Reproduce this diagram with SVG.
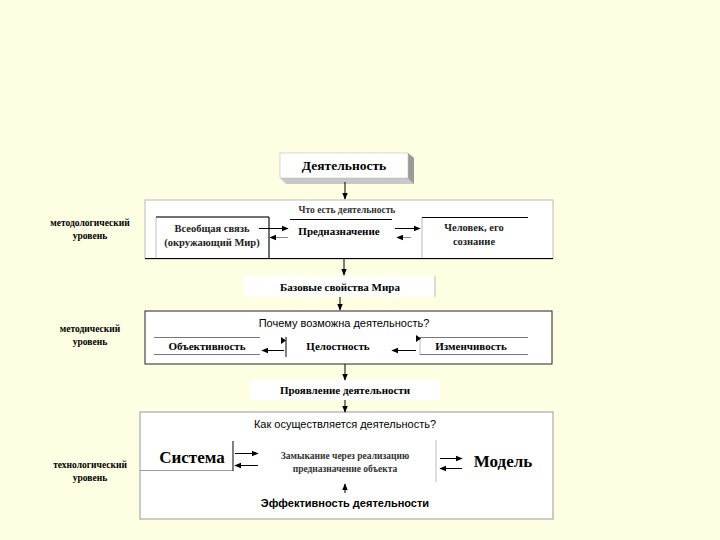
<svg xmlns="http://www.w3.org/2000/svg" width="720" height="540" viewBox="0 0 720 540">
<defs>
<marker id="ah" viewBox="0 0 10 10" refX="9" refY="5" markerWidth="7" markerHeight="7" orient="auto" markerUnits="userSpaceOnUse"><path d="M0,1 L10,5 L0,9 z" fill="#000"/></marker>
</defs>
<style>
.lbl{font-family:"Liberation Serif","DejaVu Serif",serif;font-size:9.5px;font-weight:bold;fill:#000;text-anchor:middle}
.ser{font-family:"Liberation Serif","DejaVu Serif",serif;font-size:10.5px;font-weight:bold;fill:#222;text-anchor:middle}
.serb{font-family:"Liberation Serif","DejaVu Serif",serif;font-size:11px;font-weight:bold;fill:#000;text-anchor:middle}
.sm{font-family:"Liberation Serif","DejaVu Serif",serif;font-size:9.5px;font-weight:bold;fill:#333;text-anchor:middle}
.san{font-family:"Liberation Sans",Arial,sans-serif;font-size:11px;fill:#000;text-anchor:middle}
.big{font-family:"Liberation Serif","DejaVu Serif",serif;font-size:17px;font-weight:bold;fill:#000;text-anchor:middle}
.c{stroke:#000;stroke-width:1;fill:none;marker-end:url(#ah)}
.cg{stroke:#888;stroke-width:1;fill:none;marker-end:url(#ah)}
.panel{fill:#fff}
.strip{fill:#fff}
</style>
<rect width="720" height="540" fill="#FEFEE2"/>

<g id="labels">
<text class="lbl" x="90" y="226">методологический</text>
<text class="lbl" x="90" y="239">уровень</text>
<text class="lbl" x="90" y="332">методический</text>
<text class="lbl" x="90" y="345">уровень</text>
<text class="lbl" x="90" y="468">технологический</text>
<text class="lbl" x="90" y="481">уровень</text>
</g>

<g id="top">
<polygon points="408,153 414,158 414,184 286,184 280,178 408,178" fill="#c8c8c8"/>
<polygon points="408,153 414,158 414,184 408,178" fill="#9a9a9a"/>
<rect x="280" y="153" width="128" height="25" fill="#fff" stroke="#bbb" stroke-width="0.6"/>
<text class="serb" x="344" y="170" style="font-size:13.5px">Деятельность</text>
</g>

<g id="panel1">
<rect class="panel" x="145" y="200" width="408" height="59" stroke="#aaa" stroke-width="0.8"/>
<line x1="145" y1="258.5" x2="553" y2="258.5" stroke="#000" stroke-width="1.2"/>
<text class="sm" x="347" y="213">Что есть  деятельность</text>
</g>
<g id="n-vseobsh">
<path d="M156,258 V217 H269 V258" fill="#fff" stroke="#999" stroke-width="0.6"/>
<path d="M156,217 H269 V258" fill="none" stroke="#000" stroke-width="1"/>
<text class="ser" x="212" y="232">Всеобщая связь</text>
<text class="ser" x="212" y="246">(окружающий Мир)</text>
</g>
<g id="n-prednazn">
<line x1="290" y1="219.5" x2="392" y2="219.5" stroke="#000" stroke-width="1"/>
<text class="serb" x="339" y="235">Предназначение</text>
</g>
<g id="n-chelovek">
<path d="M422,258 V217" stroke="#bbb" stroke-width="1"/>
<line x1="422" y1="217.5" x2="528" y2="217.5" stroke="#000" stroke-width="1"/>
<text class="ser" x="474" y="231">Человек, его</text>
<text class="ser" x="474" y="245">сознание</text>
</g>

<g id="n-bazovye">
<rect class="strip" x="244" y="276" width="191" height="21"/>
<line x1="435" y1="276" x2="435" y2="297" stroke="#bbb"/>
<text class="serb" x="340" y="291">Базовые свойства Мира</text>
</g>

<g id="panel2">
<rect class="panel" x="145" y="311" width="407" height="53" stroke="#222" stroke-width="1"/>
<text class="san" x="344" y="327">Почему возможна деятельность?</text>
</g>
<g id="n-obekt">
<line x1="154" y1="337.5" x2="260" y2="337.5" stroke="#777"/>
<line x1="154" y1="354.5" x2="260" y2="354.5" stroke="#777"/>
<text class="serb" x="207" y="350">Объективность</text>
</g>
<g id="n-celost">
<text class="serb" x="338" y="350">Целостность</text>
</g>
<g id="n-izmench">
<line x1="420" y1="337" x2="420" y2="355" stroke="#bbb"/>
<line x1="420" y1="337.5" x2="528" y2="337.5" stroke="#777"/>
<line x1="420" y1="354.5" x2="528" y2="354.5" stroke="#777"/>
<text class="serb" x="471" y="350">Изменчивость</text>
</g>

<g id="n-proyavl">
<rect class="strip" x="250" y="380" width="190" height="20"/>
<text class="serb" x="345" y="394">Проявление деятельности</text>
</g>

<g id="panel3">
<rect class="panel" x="140" y="412" width="413" height="107" stroke="#999" stroke-width="1"/>
<text class="san" x="345" y="428">Как осуществляется деятельность?</text>
<text class="san" x="345" y="507" style="font-weight:bold">Эффективность деятельности</text>
</g>
<g id="n-sistema">
<line x1="140" y1="470.5" x2="233" y2="470.5" stroke="#999"/>
<line x1="233" y1="441" x2="233" y2="471" stroke="#000"/>
<text class="big" x="192" y="463">Система</text>
</g>
<g id="n-zamyk">
<text class="sm" x="345" y="459">Замыкание  через реализацию</text>
<text class="sm" x="345" y="472">предназначение объекта</text>
<line x1="436" y1="440" x2="436" y2="482" stroke="#bbb"/>
</g>
<g id="n-model">
<text class="big" x="503" y="467">Модель</text>
</g>

<g id="connectors">
<line class="c" x1="345" y1="182" x2="345" y2="199"/>
<line class="c" x1="259" y1="228.5" x2="288" y2="228.5"/>
<line class="cg" x1="288" y1="237.5" x2="270" y2="237.5"/>
<line class="c" x1="395" y1="228.5" x2="420" y2="228.5"/>
<line class="cg" x1="411" y1="237.5" x2="397" y2="237.5"/>
<line class="c" x1="344" y1="259" x2="344" y2="275"/>
<line class="c" x1="340" y1="297" x2="340" y2="310"/>
<line class="c" x1="284" y1="350.5" x2="262" y2="350.5"/>
<line x1="286" y1="337" x2="286" y2="357" stroke="#000"/>
<path d="M281,337 L286,340.5 L281,344 z" fill="#000"/>
<line class="c" x1="416" y1="350.5" x2="392" y2="350.5"/>
<path d="M416,335 L421,338.5 L416,342 z" fill="#000"/>
<line class="c" x1="345" y1="364" x2="345" y2="380"/>
<line class="c" x1="345" y1="400" x2="345" y2="412"/>
<line class="c" x1="235" y1="453.5" x2="258" y2="453.5"/>
<line class="c" x1="258" y1="465.5" x2="235" y2="465.5"/>
<line class="c" x1="440" y1="458.5" x2="462" y2="458.5"/>
<line class="c" x1="462" y1="468.5" x2="440" y2="468.5"/>
<line class="c" x1="345" y1="493" x2="345" y2="484"/>
</g>
</svg>
